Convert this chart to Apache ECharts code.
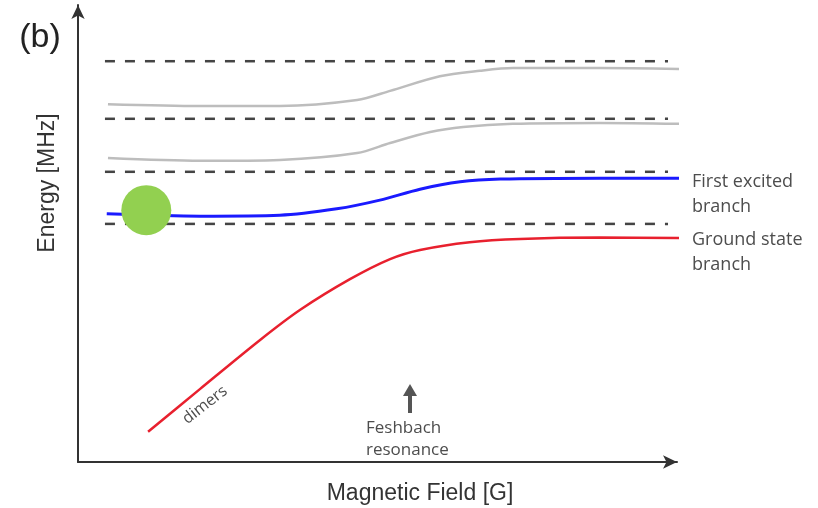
<!DOCTYPE html>
<html>
<head>
<meta charset="utf-8">
<script src="https://cdn.jsdelivr.net/npm/echarts@6/dist/echarts.min.js"></script>
<style>html,body{margin:0;padding:0;background:#fff;}#c{width:818px;height:508px;}</style>
</head>
<body>
<div id="c"></div>
<script>
// Field axis (arbitrary units 0..100), energy axis (arbitrary units 0..100)
var dashLevels = [87.7, 75.1, 63.5, 52.1];
var dashXRange = [4.5, 98.5];

var gray1X = [5.0, 20.4, 33.7, 46.6, 52.1, 60.4, 67.1, 72.6, 87.1, 100.8];
var gray1Y = [78.3, 77.9, 77.9, 79.2, 81.2, 84.4, 85.6, 86.2, 86.2, 86.0];

var gray2X = [5.0, 20.4, 33.7, 46.6, 52.1, 58.8, 64.3, 72.6, 87.1, 100.8];
var gray2Y = [66.5, 65.9, 66.1, 67.6, 69.8, 72.2, 73.3, 74.0, 74.2, 74.0];

var blueX = [4.8, 20.4, 33.7, 43.2, 50.4, 57.1, 63.8, 70.5, 87.1, 100.8];
var blueY = [54.3, 53.8, 54.0, 55.4, 57.3, 59.7, 61.3, 61.9, 62.1, 62.1];

var redX = [11.7, 20.4, 30.4, 37.1, 45.4, 52.1, 57.1, 65.4, 73.8, 87.1, 100.8];
var redY = [6.6, 16.0, 26.7, 33.3, 40.0, 44.4, 46.4, 48.1, 48.8, 49.1, 49.0];

var markerPoint = [11.4, 55.1];

var labels = {
  panel: '(b)',
  xTitle: 'Magnetic Field [G]',
  yTitle: 'Energy [MHz]',
  excited: ['First excited', 'branch'],
  ground: ['Ground state', 'branch'],
  dimers: 'dimers',
  feshbach: ['Feshbach', 'resonance']
};

function pairs(xs, ys) { return xs.map(function (x, i) { return [x, ys[i]]; }); }

var series = [];
dashLevels.forEach(function (lv) {
  series.push({
    type: 'line', data: [[dashXRange[0], lv], [dashXRange[1], lv]],
    symbol: 'none', silent: true,
    lineStyle: { color: '#444', width: 2.5, type: [10, 10] }
  });
});
function curve(xs, ys, color, w) {
  return { type: 'line', data: pairs(xs, ys), smooth: 0.3, symbol: 'none', clip: false,
    lineStyle: { color: color, width: w } };
}
series.push(curve(gray1X, gray1Y, '#bdbdbd', 2.5));
series.push(curve(gray2X, gray2Y, '#bdbdbd', 2.5));
series.push(curve(blueX, blueY, '#1a1aff', 3));
series.push(curve(redX, redY, '#e8202e', 2.5));
series.push({ type: 'scatter', data: [markerPoint], symbolSize: 50, z: 5,
  itemStyle: { color: '#92d050', opacity: 1 } });

var chart = echarts.init(document.getElementById('c'), null, { renderer: 'canvas' });
var annFont = '"Open Sans", sans-serif';
var annColor = '#4d4d4d';
var axFont = '"Liberation Sans", Arial, sans-serif';
chart.setOption({
  animation: false,
  backgroundColor: '#fff',
  grid: { left: 78, right: 141, top: 5, bottom: 46 },
  xAxis: { type: 'value', min: 0, max: 100,
    axisLine: { lineStyle: { color: '#333', width: 2 }, symbol: ['none', 'arrow'], symbolSize: [10, 14] },
    axisTick: { show: false }, axisLabel: { show: false }, splitLine: { show: false } },
  yAxis: { type: 'value', min: 0, max: 100,
    axisLine: { lineStyle: { color: '#333', width: 2 }, symbol: ['none', 'arrow'], symbolSize: [10, 14] },
    axisTick: { show: false }, axisLabel: { show: false }, splitLine: { show: false } },
  series: series,
  graphic: [
    { type: 'text', x: 40, y: 38, style: { text: labels.panel, font: '34px ' + axFont, fill: '#222', align: 'center', verticalAlign: 'middle' } },
    { type: 'text', x: 48, y: 183, rotation: Math.PI / 2, style: { text: labels.yTitle, font: '23px ' + axFont, fill: '#333', align: 'center', verticalAlign: 'middle' } },
    { type: 'text', x: 420, y: 494, style: { text: labels.xTitle, font: '23px ' + axFont, fill: '#333', align: 'center', verticalAlign: 'middle' } },
    { type: 'text', x: 692, y: 182, style: { text: labels.excited[0], font: '18px ' + annFont, fill: annColor, verticalAlign: 'middle' } },
    { type: 'text', x: 692, y: 207, style: { text: labels.excited[1], font: '18px ' + annFont, fill: annColor, verticalAlign: 'middle' } },
    { type: 'text', x: 692, y: 240, style: { text: labels.ground[0], font: '18px ' + annFont, fill: annColor, verticalAlign: 'middle' } },
    { type: 'text', x: 692, y: 265, style: { text: labels.ground[1], font: '18px ' + annFont, fill: annColor, verticalAlign: 'middle' } },
    { type: 'text', x: 366, y: 428, style: { text: labels.feshbach[0], font: '17px ' + annFont, fill: annColor, verticalAlign: 'middle' } },
    { type: 'text', x: 366, y: 450, style: { text: labels.feshbach[1], font: '17px ' + annFont, fill: annColor, verticalAlign: 'middle' } },
    { type: 'text', x: 205, y: 405, rotation: 0.66, style: { text: labels.dimers, font: '16px ' + annFont, fill: annColor, align: 'center', verticalAlign: 'middle' } },
    { type: 'line', shape: { x1: 410, y1: 413, x2: 410, y2: 394 }, style: { stroke: '#555', lineWidth: 4 } },
    { type: 'polygon', shape: { points: [[410, 384], [403, 396], [417, 396]] }, style: { fill: '#555' } }
  ]
});
</script>
</body>
</html>
